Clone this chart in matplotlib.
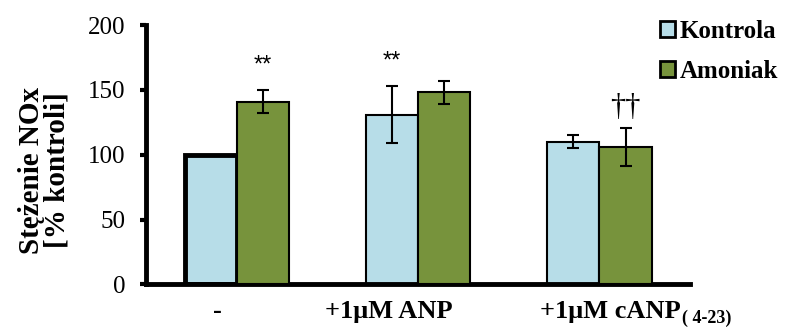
import matplotlib
matplotlib.use("Agg")
import matplotlib.pyplot as plt
import numpy as np
from matplotlib.patches import Rectangle

categories = ["-", "+1μM ANP", "+1μM cANP"]
subscript = "( 4-23)"
series_names = ["Kontrola", "Amoniak"]
kontrola = [100, 131, 110]
kontrola_err = [0, 22, 5]
amoniak = [141, 148, 106]
amoniak_err = [9, 9, 15]
annotations = [(0, 1, "**"), (1, 0, "**"), (2, 1, "††")]
yticks = [0, 50, 100, 150, 200]

plt.rcParams['font.family'] = ['Liberation Serif', 'DejaVu Serif']

fig = plt.figure(figsize=(7.87, 3.27), dpi=100)
ax = fig.add_axes([0.1855, 0.13, 0.877 - 0.1855, 0.7935])

x = np.arange(len(categories))
w = 0.287
c1 = "#B7DDE8"
c2 = "#77933C"
b1 = ax.bar(x - w/2, kontrola, w, color=c1, edgecolor="black", linewidth=1.5, zorder=2)
b2 = ax.bar(x + w/2, amoniak, w, color=c2, edgecolor="black", linewidth=1.5, zorder=3)
b1[0].set_linewidth(3.5)

ek = np.array(kontrola_err, dtype=float)
mask = ek > 0
ax.errorbar((x - w/2)[mask], np.array(kontrola)[mask], yerr=ek[mask],
            fmt="none", ecolor="black", elinewidth=1.5, capsize=4, capthick=1.5, zorder=4)
ax.errorbar(x + w/2, amoniak, yerr=amoniak_err, fmt="none", ecolor="black",
            elinewidth=1.5, capsize=4, capthick=1.5, zorder=4)

vals = [kontrola, amoniak]
errs = [kontrola_err, amoniak_err]
for gi, si, txt in annotations:
    xi = x[gi] + (w/2 if si == 1 else -w/2)
    top = vals[si][gi] + errs[si][gi]
    if txt == "**":
        ax.text(xi, top + 14, txt, ha="center", va="baseline", fontsize=17,
                family="Liberation Sans")
    else:
        ax.text(xi, top + 10, txt, ha="center", va="baseline", fontsize=22)

ax.set_xlim(-0.5, 2.5)
ax.set_ylim(0, 200)
ax.set_yticks(yticks)
ax.set_yticklabels([str(t) for t in yticks], fontsize=18)
label_shift = [-0.105, -0.16, 0.06]
ax.set_xticks(x + np.array(label_shift))
ax.set_xticklabels(categories, fontsize=19, fontweight="bold")
ax.tick_params(axis="x", length=0, pad=11)
ax.tick_params(axis="y", length=4.5, width=3, direction="out", pad=10)
for s in ["top", "right"]:
    ax.spines[s].set_visible(False)
for s in ["left", "bottom"]:
    ax.spines[s].set_linewidth(3.5)

# subscript for third label
fig.canvas.draw()
lab = ax.get_xticklabels()[2]
bb = lab.get_window_extent()
inv = fig.transFigure.inverted()
(x1, y0) = inv.transform((bb.x1, bb.y0))
fig.text(x1 + 0.001, y0 - 0.012, subscript, fontsize=13, fontweight="bold", ha="left", va="bottom")

fig.text(0.056, 0.48, "Stężenie NOx\n[% kontroli]", fontsize=21, fontweight="bold",
         rotation=90, ha="center", va="center", multialignment="center", linespacing=0.95)

handles = [Rectangle((0, 0), 1, 1, facecolor=c1, edgecolor="black", linewidth=2),
           Rectangle((0, 0), 1, 1, facecolor=c2, edgecolor="black", linewidth=2)]
fig.legend(handles, series_names, loc="upper left", bbox_to_anchor=(0.838, 0.94), frameon=False,
           prop={"size": 18, "weight": "bold"}, handlelength=0.6, handleheight=0.6,
           handletextpad=0.2, labelspacing=0.7, borderpad=0, borderaxespad=0)

fig.savefig("out.png", dpi=100)
